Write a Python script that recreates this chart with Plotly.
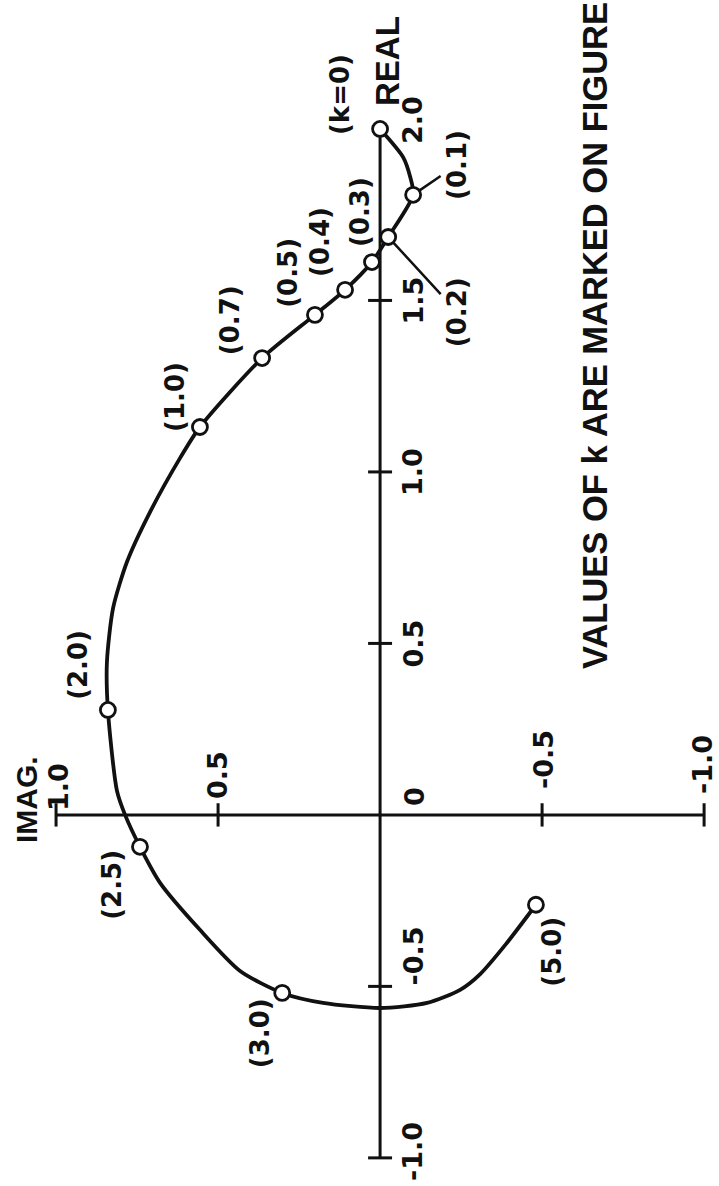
import plotly.graph_objects as go

# Locus of the response in the complex plane
curve_imag = [0.0, -0.071, -0.093, -0.102, -0.025, 0.025, 0.108, 0.201, 0.364,
              0.556, 0.617, 0.710, 0.781, 0.824, 0.843, 0.840, 0.812, 0.787,
              0.741, 0.679, 0.556, 0.432, 0.302, 0.176, 0.0, -0.145, -0.247,
              -0.309, -0.389, -0.481]
curve_real = [2.0, 1.918, 1.860, 1.808, 1.685, 1.612, 1.531, 1.458, 1.332,
              1.131, 1.041, 0.883, 0.738, 0.603, 0.446, 0.306, 0.070, 0.0,
              -0.093, -0.198, -0.335, -0.455, -0.519, -0.548, -0.563, -0.548,
              -0.510, -0.464, -0.376, -0.262]

# Points marked for particular values of k
k_labels = ["(k=0)", "(0.1)", "(0.2)", "(0.3)", "(0.4)", "(0.5)", "(0.7)",
            "(1.0)", "(2.0)", "(2.5)", "(3.0)", "(5.0)"]
k_imag = [0.0, -0.102, -0.025, 0.025, 0.108, 0.201, 0.364, 0.556, 0.840,
          0.741, 0.302, -0.481]
k_real = [2.0, 1.808, 1.685, 1.612, 1.531, 1.458, 1.332, 1.131, 0.306,
          -0.093, -0.519, -0.262]

# Axes
real_axis_span = [-1.0, 2.0]
imag_axis_span = [1.0, -1.0]
real_ticks = [-1.0, -0.5, 0.5, 1.0, 1.5]
real_tick_labels = ["-1.0", "-0.5", "0.5", "1.0", "1.5"]
imag_ticks = [1.0, 0.5, -0.5, -1.0]
imag_tick_labels = ["1.0", "0.5", "-0.5", "-1.0"]

INK = "#111111"
LABEL_FONT = dict(family="DejaVu Sans", size=26, color=INK)
TICK_FONT = dict(family="DejaVu Sans", size=27, color=INK)

fig = go.Figure()

# Real axis (drawn vertically) and imaginary axis (drawn horizontally)
fig.add_trace(go.Scatter(x=[0, 0], y=real_axis_span, mode="lines",
                         line=dict(color=INK, width=3), hoverinfo="skip"))
fig.add_trace(go.Scatter(x=imag_axis_span, y=[0, 0], mode="lines",
                         line=dict(color=INK, width=3), hoverinfo="skip"))

# Tick bars
tick_half_im = 0.037
tick_half_re = 0.034
for t in real_ticks:
    fig.add_trace(go.Scatter(x=[tick_half_im, -tick_half_im], y=[t, t],
                             mode="lines", line=dict(color=INK, width=3),
                             hoverinfo="skip"))
for t in imag_ticks:
    fig.add_trace(go.Scatter(x=[t, t], y=[-tick_half_re, tick_half_re],
                             mode="lines", line=dict(color=INK, width=3),
                             hoverinfo="skip"))

# Locus curve
fig.add_trace(go.Scatter(x=curve_imag, y=curve_real, mode="lines",
                         line=dict(color=INK, width=3.8, shape="spline",
                                   smoothing=0.7),
                         hoverinfo="skip"))

# Marked k points
fig.add_trace(go.Scatter(x=k_imag, y=k_real, mode="markers",
                         marker=dict(symbol="circle", size=15, color="white",
                                     line=dict(color=INK, width=2.8)),
                         hoverinfo="skip"))

# k labels: pixel offsets from each marker
k_shift = {
    "(k=0)": (-40, 34), "(0.1)": (44, 30), "(0.2)": (69, -75),
    "(0.3)": (-12, 50), "(0.4)": (-25, 48), "(0.5)": (-27, 42),
    "(0.7)": (-32, 38), "(1.0)": (-25, 30), "(2.0)": (-30, 45),
    "(2.5)": (-28, -38), "(3.0)": (-22, -40), "(5.0)": (16, -47),
}
leader = {"(0.1)", "(0.2)"}
annotations = []
for lab, xi, yr in zip(k_labels, k_imag, k_real):
    dx, dy = k_shift[lab]
    if lab in leader:
        annotations.append(dict(x=xi, y=yr, xref="x", yref="y", text=lab,
                                textangle=-90, font=LABEL_FONT,
                                showarrow=True, arrowhead=0, arrowwidth=2.5,
                                arrowcolor=INK, ax=dx, ay=-dy, standoff=7))
    else:
        annotations.append(dict(x=xi, y=yr, xref="x", yref="y", text=lab,
                                textangle=-90, font=LABEL_FONT,
                                showarrow=False, xshift=dx, yshift=dy))

# Real axis tick labels (to the right of the axis)
real_label_shift = {"-1.0": 6, "-0.5": 30, "0.5": 0, "1.0": 0, "1.5": 0}
for t, lab in zip(real_ticks, real_tick_labels):
    annotations.append(dict(x=0, y=t, xref="x", yref="y", text=lab,
                            textangle=-90, font=TICK_FONT, showarrow=False,
                            xshift=33, yshift=real_label_shift[lab]))
annotations.append(dict(x=0, y=real_axis_span[1], xref="x", yref="y",
                        text="2.0", textangle=-90, font=TICK_FONT,
                        showarrow=False, xshift=33, yshift=9))

# Imaginary axis tick labels (above the axis)
imag_label_shift = {"1.0": 28, "0.5": 40, "-0.5": 55, "-1.0": 50}
imag_label_dx = {"1.0": 3, "0.5": 0, "-0.5": 2, "-1.0": -1}
for t, lab in zip(imag_ticks, imag_tick_labels):
    annotations.append(dict(x=t, y=0, xref="x", yref="y", text=lab,
                            textangle=-90, font=TICK_FONT, showarrow=False,
                            xshift=imag_label_dx[lab],
                            yshift=imag_label_shift[lab]))
annotations.append(dict(x=0, y=0, xref="x", yref="y", text="0",
                        textangle=-90, font=TICK_FONT, showarrow=False,
                        xshift=35, yshift=18))

# Axis names
annotations.append(dict(x=0, y=real_axis_span[1], xref="x", yref="y",
                        text="REAL", textangle=-90,
                        font=dict(family="Liberation Sans", size=33,
                                  color=INK),
                        showarrow=False, xshift=8, yshift=68))
annotations.append(dict(x=imag_axis_span[0], y=0, xref="x", yref="y",
                        text="IMAG.", textangle=-90,
                        font=dict(family="Liberation Sans", size=30,
                                  color=INK),
                        showarrow=False, xshift=-29, yshift=15))

# Note on the figure
annotations.append(dict(x=0.8275, y=0.7175, xref="paper", yref="paper",
                        xanchor="center", yanchor="middle",
                        text="<b>VALUES OF k ARE MARKED ON FIGURE</b>",
                        textangle=-90,
                        font=dict(family="Liberation Sans", size=34.5,
                                  color=INK),
                        showarrow=False))

fig.update_layout(
    width=719, height=1186,
    margin=dict(l=0, r=0, t=0, b=0),
    paper_bgcolor="white", plot_bgcolor="white",
    showlegend=False,
    xaxis=dict(range=[1.173, -1.046], visible=False, fixedrange=True),
    yaxis=dict(range=[-1.082, 2.376], visible=False, fixedrange=True),
    annotations=annotations,
)

# bold face for all plain labels
for a in fig.layout.annotations:
    if not a.text.startswith("<b>"):
        a.text = "<b>" + a.text + "</b>"

fig.write_html("out.html")
